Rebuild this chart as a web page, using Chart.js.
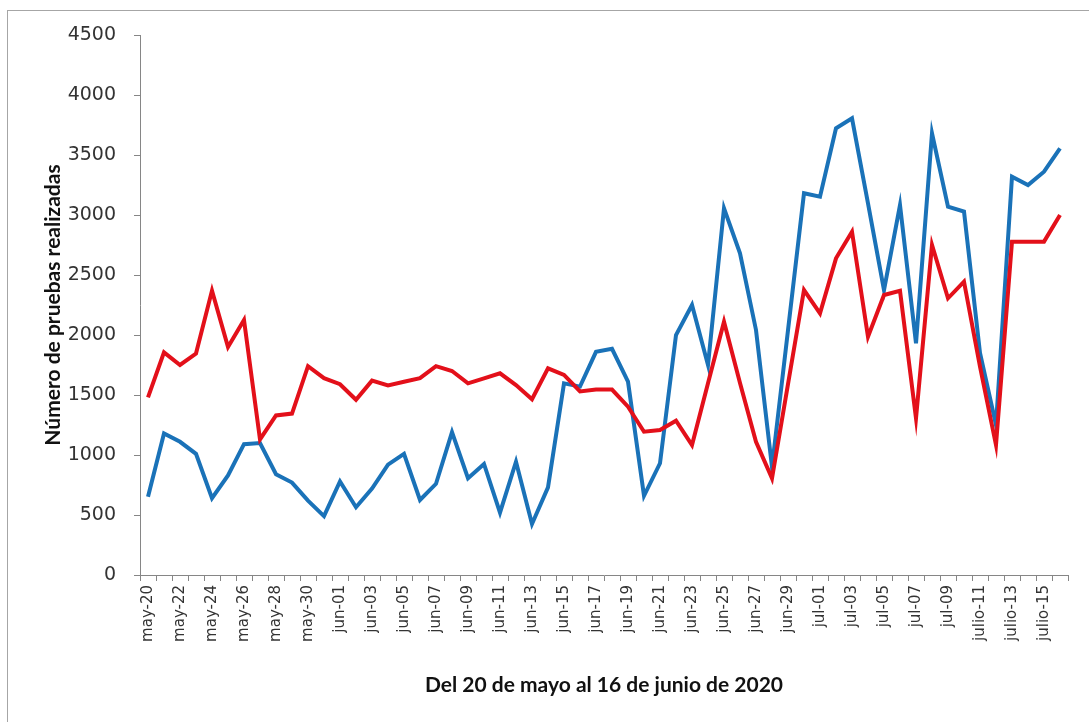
<!DOCTYPE html>
<html>
<head>
<meta charset="utf-8">
<script src="https://cdn.jsdelivr.net/npm/chart.js@4.4.1/dist/chart.umd.min.js"></script>
<style>
  html, body { margin: 0; padding: 0; background: #fff; overflow: hidden; }
  #wrap { position: relative; width: 1089px; height: 722px; }
  #frame { position: absolute; left: 7px; top: 10px; width: 1100px; height: 730px; border: 1px solid #a6a6a6; }
  canvas { position: absolute; left: 0; top: 0; }
</style>
</head>
<body>
<div id="wrap">
  <div id="frame"></div>
  <canvas id="myChart" width="1089" height="722"></canvas>
</div>
<script>
const dias = [
  'may-20', 'may-21', 'may-22', 'may-23', 'may-24', 'may-25', 'may-26', 'may-27', 'may-28', 'may-29', 'may-30', 'may-31',
  'jun-01', 'jun-02', 'jun-03', 'jun-04', 'jun-05', 'jun-06', 'jun-07', 'jun-08', 'jun-09', 'jun-10',
  'jun-11', 'jun-12', 'jun-13', 'jun-14', 'jun-15', 'jun-16', 'jun-17', 'jun-18', 'jun-19', 'jun-20',
  'jun-21', 'jun-22', 'jun-23', 'jun-24', 'jun-25', 'jun-26', 'jun-27', 'jun-28', 'jun-29', 'jun-30',
  'jul-01', 'jul-02', 'jul-03', 'jul-04', 'jul-05', 'jul-06', 'jul-07', 'jul-08', 'jul-09', 'jul-10',
  'julio-11', 'julio-12', 'julio-13', 'julio-14', 'julio-15', 'julio-16'
];

// serie azul
const serieAzul = [
  653, 1180, 1110, 1010, 640, 830, 1090, 1100, 840, 770, 620, 490,
  780, 565, 720, 920, 1010, 625, 760, 1190, 806, 925,
  519, 944, 425, 730, 1597, 1570, 1860, 1885, 1611, 660,
  931, 2000, 2250, 1750, 3056, 2681, 2042, 900, 2040, 3181,
  3153, 3722, 3806, 3097, 2375, 3083, 1931, 3681, 3069, 3028,
  1850, 1250, 3319, 3250, 3361, 3556
];

// serie roja
const serieRoja = [
  1480, 1855, 1750, 1845, 2370, 1900, 2125, 1130, 1330, 1345, 1740, 1640,
  1590, 1460, 1620, 1580, 1610, 1640, 1740, 1700, 1597, 1639,
  1681, 1583, 1465, 1722, 1667, 1530, 1545, 1545, 1403, 1194,
  1208, 1286, 1083, 1597, 2111, 1600, 1110, 806, 1590, 2375,
  2181, 2639, 2861, 1986, 2333, 2369, 1306, 2750, 2306, 2444,
  1736, 1083, 2778, 2778, 2778, 3000
];

const ejeY = { min: 0, max: 4500, paso: 500 };

const axisColor = '#868686';
const labelColor = '#333';

const ctx = document.getElementById('myChart').getContext('2d');
const myChart = new Chart(ctx, {
  type: 'line',
  data: {
    labels: dias,
    datasets: [{
      data: serieAzul,
      borderColor: '#1a72b8',
      borderWidth: 4,
      pointRadius: 0,
      tension: 0,
      fill: false,
      order: 2
    }, {
      data: serieRoja,
      borderColor: '#e3101a',
      borderWidth: 4,
      pointRadius: 0,
      tension: 0,
      fill: false,
      order: 1
    }]
  },
  options: {
    responsive: false,
    devicePixelRatio: 1,
    animation: false,
    layout: {
      padding: { left: 37, top: 35, right: 21, bottom: 20 }
    },
    plugins: {
      legend: false,
      tooltip: { enabled: false }
    },
    scales: {
      x: {
        offset: true,
        grid: {
          drawOnChartArea: false,
          drawTicks: true,
          tickLength: 6,
          color: axisColor,
          offset: true
        },
        border: { color: axisColor, width: 1 },
        ticks: {
          autoSkip: false,
          maxRotation: 90,
          minRotation: 90,
          padding: 4,
          color: labelColor,
          font: { family: 'DejaVu Sans', size: 15 },
          callback: function (value, index) {
            return index % 2 === 0 ? this.getLabelForValue(value) : '';
          }
        },
        title: {
          display: true,
          text: 'Del 20 de mayo al 16 de junio de 2020',
          color: '#111',
          font: { family: 'Lato', weight: 'bold', size: 21 }
        },
        afterFit: function (scale) {
          scale.height = 127;
        }
      },
      y: {
        min: ejeY.min,
        max: ejeY.max,
        grid: {
          drawOnChartArea: false,
          drawTicks: true,
          tickLength: 6,
          color: axisColor
        },
        border: { color: axisColor, width: 1 },
        ticks: {
          stepSize: ejeY.paso,
          padding: 18,
          color: labelColor,
          font: { family: 'DejaVu Sans', size: 19 },
          callback: function (value) {
            return String(value);
          }
        },
        title: {
          display: true,
          text: 'Número de pruebas realizadas',
          color: '#111',
          font: { family: 'Lato', weight: 'bold', size: 21 }
        },
        afterFit: function (scale) {
          scale.width = 103;
        }
      }
    }
  }
});
</script>
</body>
</html>
